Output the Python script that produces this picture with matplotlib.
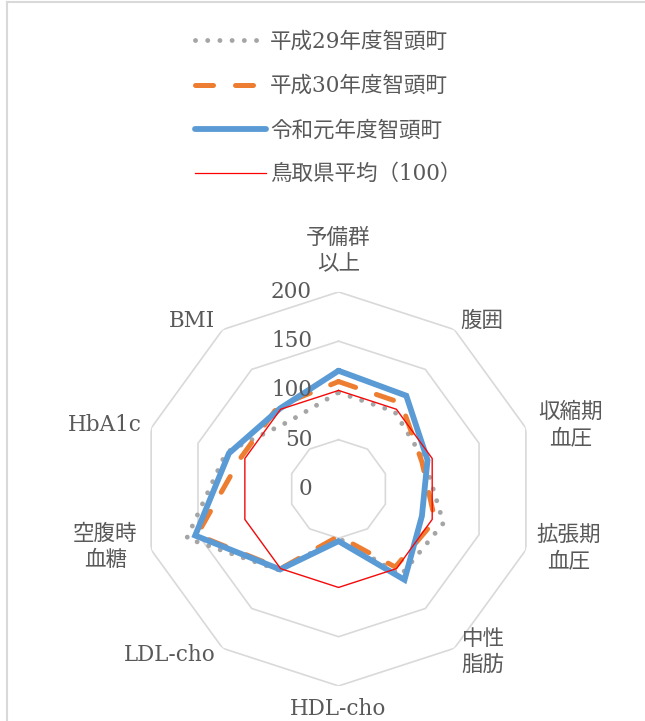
import numpy as np
import matplotlib
matplotlib.use("Agg")
import matplotlib.pyplot as plt
from matplotlib import transforms
from matplotlib.lines import Line2D

plt.rcParams['font.family'] = ['DejaVu Serif', 'Noto Sans CJK JP']

# データ（標準化比、鳥取県平均=100）
categories = ['予備群\n以上', '腹囲', '収縮期\n血圧', '拡張期\n血圧', '中性\n脂肪',
              'HDL-cho', 'LDL-cho', '空腹時\n血糖', 'HbA1c', 'BMI']
h29 = [98, 97, 92, 112, 108, 50, 102, 162, 120, 85]
h30 = [109, 108, 89, 103, 98, 48, 100, 151, 104, 104]
r1 = [120, 117, 95, 89, 114, 53, 101, 153, 117, 101]
pref = [100, 100, 100, 100, 100, 100, 100, 100, 100, 100]
series_names = ['平成29年度智頭町', '平成30年度智頭町', '令和元年度智頭町', '鳥取県平均（100）']
rings = [50, 100, 150, 200]
tick_vals = [0, 50, 100, 150, 200]

# ラベル位置（角度[度], 半径）
label_pos = [(0, 241.6), (40.5, 224), (74.5, 244), (104.4, 241.6), (138.4, 221),
             (180, 223.5), (225.4, 240), (256, 244), (285.3, 246), (318.9, 226)]

text_col = '#595959'
grid_col = '#D9D9D9'
fs = 15.5

n = len(categories)
angles = np.linspace(0, 2 * np.pi, n, endpoint=False)
closed = np.append(angles, angles[0])

def close(v):
    return np.append(v, v[0])

fig = plt.figure(figsize=(6.45, 7.21), dpi=100)
ax = fig.add_axes([0.2194, 0.0486, 0.6109, 0.5465], projection='polar')
ax.set_theta_offset(np.pi / 2)
ax.set_theta_direction(-1)
ax.set_ylim(0, 200)
ax.set_xticks([])
ax.set_yticks([])
ax.grid(False)
ax.spines['polar'].set_visible(False)
ax.patch.set_alpha(0)

# 目盛りの多角形
for v in rings:
    ax.plot(closed, [v] * (n + 1), color=grid_col, lw=1.2, zorder=1)

l1, = ax.plot(closed, close(h29), color='#A5A5A5', lw=3.5, dashes=(0.01, 2.5),
              dash_capstyle='round', zorder=2)
l2, = ax.plot(closed, close(h30), color='#ED7D31', lw=3.6, dashes=(3.6, 4.4),
              dash_capstyle='round', zorder=3)
l3, = ax.plot(closed, close(r1), color='#5B9BD5', lw=4.2, solid_joinstyle='miter',
              solid_capstyle='round', zorder=4)
l4, = ax.plot(closed, close(pref), color='#FF0000', lw=0.9, zorder=5)

# 目盛りラベル
off = transforms.offset_copy(ax.transData, fig=fig, x=-26.5, y=0, units='dots')
for v in tick_vals:
    ax.text(0, v, str(v), transform=off, ha='right', va='center',
            fontsize=fs, color=text_col, zorder=6, clip_on=False)

# 項目ラベル
for lab, (th, r) in zip(categories, label_pos):
    ax.text(np.deg2rad(th), r, lab, ha='center', va='center', fontsize=fs,
            color=text_col, linespacing=1.25, clip_on=False)

leg = fig.legend([l1, l2, l3, l4], series_names, loc='upper left',
                 bbox_to_anchor=(0.272, 0.984), frameon=False, fontsize=fs,
                 handlelength=3.3, handletextpad=0.2, labelspacing=1.03,
                 labelcolor=text_col)

# 外枠
fig.add_artist(Line2D([6.5 / 645, 1], [1 - 1.5 / 721, 1 - 1.5 / 721],
                      color=grid_col, lw=1.5, transform=fig.transFigure))
fig.add_artist(Line2D([7 / 645, 7 / 645], [0, 1 - 1.5 / 721],
                      color=grid_col, lw=1.5, transform=fig.transFigure))

fig.savefig('out.png', dpi=100, facecolor='white')
